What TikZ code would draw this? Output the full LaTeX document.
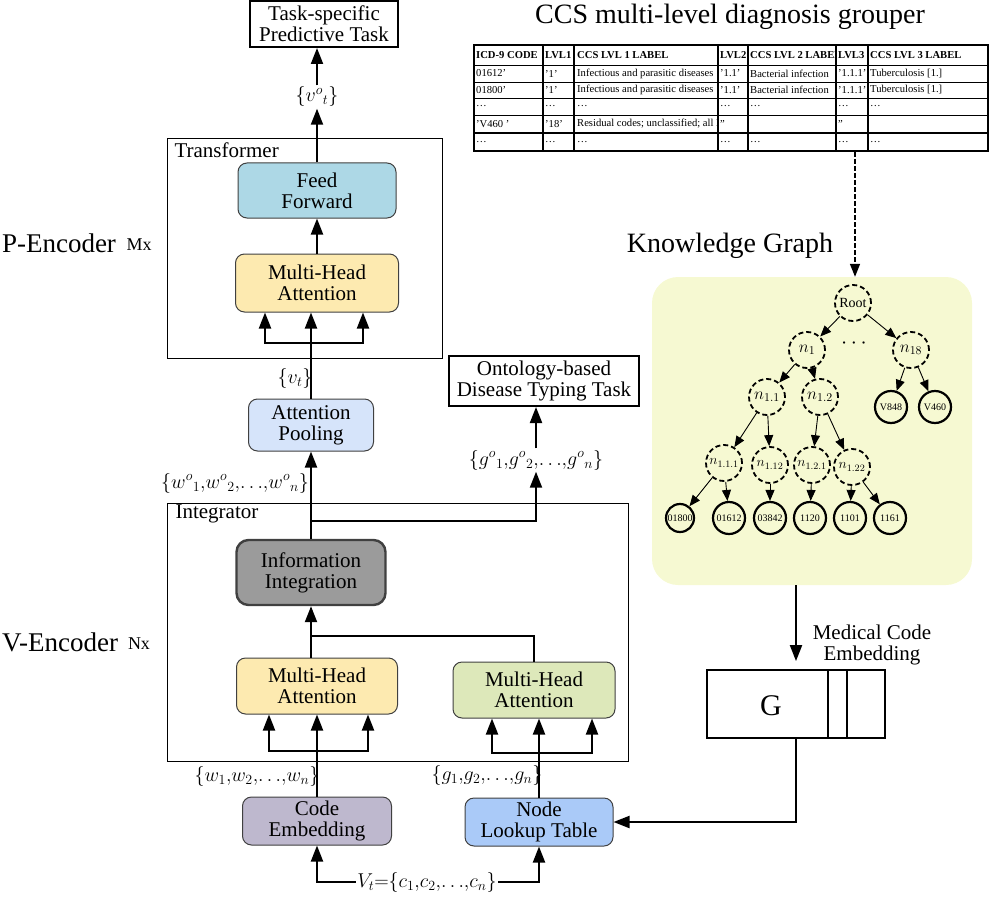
\RequirePackage{fix-cm}
\documentclass[tikz,border=0pt]{standalone}
\usepackage{fontspec}
\setmainfont{Liberation Serif}
\usepackage{tikz}
\usetikzlibrary{arrows.meta, positioning, calc}
\definecolor{ffblue}{RGB}{173, 216, 230}
\definecolor{mhayellow}{RGB}{253, 234, 176}
\definecolor{mhagreen}{RGB}{221, 232, 186}
\definecolor{poolblue}{RGB}{214, 228, 250}
\definecolor{infogray}{RGB}{155, 155, 155}
\definecolor{embpurple}{RGB}{190, 184, 206}
\definecolor{lookupblue}{RGB}{170, 202, 248}
\definecolor{kgfill}{RGB}{246, 249, 210}
\newcommand{\fsz}[1]{\fontsize{#1}{#1}\selectfont}
\tikzstyle{block} = [rectangle, rounded corners=9pt, draw=black!75, line width=1pt, align=center, inner sep=0pt, font=\fsz{21}]
\tikzstyle{taskbox} = [rectangle, draw, line width=2pt, align=center, inner sep=0pt, font=\fsz{21}]
\tikzstyle{panel} = [draw, line width=0.8pt]
\tikzstyle{vec} = [inner sep=1.5pt, font=\fsz{20}]
\tikzstyle{arrow} = [line width=2pt, -{Triangle[length=16pt,width=12pt]}]
\tikzstyle{wire} = [line width=2pt]
\tikzstyle{conceptnode} = [circle, draw, dash pattern=on 5pt off 3pt, line width=1.8pt, minimum size=36pt, inner sep=0pt, font=\fsz{17}]
\tikzstyle{leafnode} = [circle, draw, line width=2.2pt, minimum size=32pt, inner sep=0pt, font=\fsz{10}]
\tikzstyle{treeedge} = [line width=0.9pt, -{Triangle[length=11pt,width=9pt]}]
\tikzstyle{tabcell} = [anchor=west, inner sep=0pt, font=\fsz{10.6}]

\begin{document}
\begin{tikzpicture}[x=1pt, y=-1pt]
    \useasboundingbox (0,0) rectangle (992,896);

    % P-Encoder
    \draw[panel] (167,138) rectangle (442,358);
    \node[anchor=west, font=\fsz{21}] (trlabel) at (171,150) {Transformer};
    \node[font=\fsz{27}] (penc) at (59,243) {P-Encoder};
    \node[font=\fsz{18}] (pmx) at (139,245) {Mx};
    \node[taskbox, minimum width=148pt, minimum height=46pt] (task) at (324,24) {Task-specific\\Predictive Task};
    \node[vec] (vot) at (317,97) {$\{v^{o}{}_{t}\}$};
    \node[block, fill=ffblue, minimum width=158pt, minimum height=55pt] (ff) at (317,190.5) {Feed\\Forward};
    \node[block, fill=mhayellow, minimum width=163pt, minimum height=58pt] (mhaP) at (317,283) {Multi-Head\\Attention};
    \node[vec] (vt) at (295,378) {$\{v_t\}$};
    \node[block, fill=poolblue, minimum width=125pt, minimum height=52pt] (pool) at (311,425) {Attention\\Pooling};

    \draw[arrow] (vot.north) -- (vot.north |- task.south);
    \draw[arrow] (ff.north) -- (vot.south);
    \draw[arrow] (mhaP.north) -- (ff.south);
    \draw[arrow] (pool.north) -- (pool.north |- mhaP.south);
    \coordinate (pbr) at (311,343);
    \draw[arrow] (pbr) -| ($(pbr |- mhaP.south)+(-46,0)$);
    \draw[arrow] (pbr) -| ($(pbr |- mhaP.south)+(52,0)$);

    % Ontology task
    \node[taskbox, minimum width=190pt, minimum height=50pt] (onto) at (544,381) {Ontology-based\\Disease Typing Task};
    \node[vec] (go) at (536,460) {$\{g^{o}{}_{1}{,}g^{o}{}_{2}{,}{\ldots}{,}g^{o}{}_{n}\}$};
    \node[vec] (wo) at (235,483) {$\{w^{o}{}_{1}{,}w^{o}{}_{2}{,}{\ldots}{,}w^{o}{}_{n}\}$};

    % V-Encoder
    \draw[panel] (167,503) rectangle (628,761);
    \node[anchor=west, font=\fsz{21}] (intlabel) at (172,514) {Integrator};
    \node[font=\fsz{27}] (venc) at (60,642) {V-Encoder};
    \node[font=\fsz{18}] (vnx) at (139,644) {Nx};
    \node[block, fill=infogray, line width=2.4pt, rounded corners=12pt, minimum width=149pt, minimum height=65pt] (info) at (311,572.5) {Information\\Integration};
    \node[block, fill=mhayellow, minimum width=161pt, minimum height=56pt] (mhaV) at (317,686) {Multi-Head\\Attention};
    \node[block, fill=mhagreen, minimum width=162pt, minimum height=56pt] (mhaG) at (534,690) {Multi-Head\\Attention};
    \node[vec] (w) at (257,776) {$\{w_1{,}w_2{,}{\ldots}{,}w_n\}$};
    \node[vec] (g) at (487,775) {$\{g_1{,}g_2{,}{\ldots}{,}g_n\}$};
    \node[block, fill=embpurple, minimum width=149pt, minimum height=48pt] (code) at (317,821) {Code\\Embedding};
    \node[block, fill=lookupblue, minimum width=148pt, minimum height=48pt] (lookup) at (539,822) {Node\\Lookup Table};
    \node[vec] (vtc) at (427,882) {$V_t{=}\{c_1{,}c_2{,}{\ldots}{,}c_n\}$};

    \draw[arrow] (info.north) -- (pool.south);
    \coordinate (split) at (311,521);
    \draw[arrow] (split) -| (go.south);
    \draw[arrow] (go.north) -- (go.north |- onto.south);
    \coordinate (join) at (311,636);
    \draw[arrow] (join) -- (info.south);
    \draw[wire] (join |- mhaV.north) -- (join) -| (mhaG.north);
    \draw[arrow] (code.north) -- (mhaV.south);
    \coordinate (vbr) at (317,751);
    \draw[arrow] (vbr) -| ($(vbr |- mhaV.south)+(-48,0)$);
    \draw[arrow] (vbr) -| ($(vbr |- mhaV.south)+(51,0)$);
    \draw[arrow] (lookup.north) -- (lookup.north |- mhaG.south);
    \coordinate (gbr) at (539,753);
    \draw[arrow] (gbr) -| ($(gbr |- mhaG.south)+(-47,0)$);
    \draw[arrow] (gbr) -| ($(gbr |- mhaG.south)+(53,0)$);
    \draw[arrow] (vtc.west) -| (code.south);
    \draw[arrow] (vtc.east) -| (lookup.south);

    % CCS grouper table
    \node[font=\fsz{28}] (title) at (730,17) {CCS multi-level diagnosis grouper};
    \draw[line width=2pt] (474,45) rectangle (988,151);
    \foreach \x in {543,574,718,748,836,868} \draw[line width=1.5pt] (\x,45) -- (\x,151);
    \foreach \y in {65,82,98,115} \draw[line width=0.9pt] (474,\y) -- (988,\y);
    \draw[line width=2.4pt] (474,133) -- (988,133);
    \node[tabcell, font=\fsz{10.6}\bfseries] (h-a) at (476,55) {ICD-9 CODE};
    \node[tabcell, font=\fsz{10.6}\bfseries] (h-b) at (545,55) {LVL1};
    \node[tabcell, font=\fsz{10.6}\bfseries] (h-c) at (577,55) {CCS LVL 1 LABEL};
    \node[tabcell, font=\fsz{10.6}\bfseries] (h-d) at (720,55) {LVL2};
    \begin{scope}
        \clip (748,45) rectangle (836,65);
        \node[tabcell, font=\fsz{10.6}\bfseries] (h-e) at (750,55) {CCS LVL 2 LABEL};
    \end{scope}
    \node[tabcell, font=\fsz{10.6}\bfseries] (h-f) at (838,55) {LVL3};
    \node[tabcell, font=\fsz{10.6}\bfseries] (h-g) at (870,55) {CCS LVL 3 LABEL};
    \foreach \r/\y/\a/\b/\c/\d/\e/\f/\g in {
        1/73.5/01612'/'1'/Infectious and parasitic diseases/'1.1'/Bacterial infection/'1.1.1'/Tuberculosis [1.],
        2/90/01800'/'1'/Infectious and parasitic diseases/'1.1'/Bacterial infection/'1.1.1'/Tuberculosis [1.],
        3/106.5/\dots/\dots/\dots/\dots/\dots/\dots/\dots,
        5/142/\dots/\dots/\dots/\dots/\dots/\dots/\dots}
    {
        \node[tabcell] (t\r-a) at (476,\y) {\a};
        \node[tabcell] (t\r-b) at (545,\y) {\b};
        \node[tabcell] (t\r-c) at (577,\y) {\c};
        \node[tabcell] (t\r-d) at (720,\y) {\d};
        \node[tabcell] (t\r-e) at (750,\y) {\e};
        \node[tabcell] (t\r-f) at (838,\y) {\f};
        \node[tabcell] (t\r-g) at (870,\y) {\g};
    }
    \node[tabcell] (t4-a) at (476,124) {'V460 '};
    \node[tabcell] (t4-b) at (545,124) {'18'};
    \begin{scope}
        \clip (574,115) rectangle (718,133);
        \node[tabcell] (t4-c) at (577,124) {Residual codes; unclassified; all E};
    \end{scope}
    \node[tabcell] (t4-d) at (720,124) {''};
    \node[tabcell] (t4-f) at (838,124) {''};
    \coordinate (tabbot) at (855,152);

    % Knowledge graph
    \node[font=\fsz{28}] (kglabel) at (730,246) {Knowledge Graph};
    \node[fill=kgfill, rounded corners=26pt, minimum width=320pt, minimum height=308pt, inner sep=0pt] (kg) at (812,431) {};
    \draw[line width=1.5pt, dash pattern=on 5pt off 2pt, -{Triangle[length=13pt,width=10pt]}] (tabbot) -- (tabbot |- kg.north);

    \node[conceptnode, font=\fsz{14}] (root) at (853,303) {Root};
    \node[conceptnode] (n1) at (807,350) {$n_{1}$};
    \node[font=\fsz{22}] (dots) at (854,344) {$\cdots$};
    \node[conceptnode] (n18) at (911,350) {$n_{18}$};
    \node[conceptnode] (n11) at (767,397) {$n_{1.1}$};
    \node[conceptnode] (n12) at (820,397) {$n_{1.2}$};
    \node[leafnode] (v848) at (891,407) {V848};
    \node[leafnode] (v460) at (935,407) {V460};
    \node[conceptnode, font=\fsz{14}] (n111) at (724,463) {$n_{1.1.1}$};
    \node[conceptnode, font=\fsz{14}] (n112) at (770,465) {$n_{1.12}$};
    \node[conceptnode, font=\fsz{14}] (n121) at (812,465) {$n_{1.2.1}$};
    \node[conceptnode, font=\fsz{14}] (n122) at (852,467) {$n_{1.22}$};
    \node[leafnode, minimum size=28pt] (l01800) at (680,518) {01800};
    \node[leafnode] (l01612) at (729,518) {01612};
    \node[leafnode] (l03842) at (770,518) {03842};
    \node[leafnode] (l1120) at (810,518) {1120};
    \node[leafnode] (l1101) at (850,518) {1101};
    \node[leafnode] (l1161) at (890,518) {1161};
    \foreach \a/\b in {root/n1, root/n18, n1/n11, n1/n12, n18/v848, n18/v460, n11/n111, n11/n112, n12/n121, n12/n122, n111/l01800, n111/l01612, n112/l03842, n121/l1120, n122/l1101, n122/l1161}
        \draw[treeedge] (\a) -- (\b);

    % Medical code embedding
    \node[draw, line width=1.8pt, minimum width=178pt, minimum height=68pt, inner sep=0pt] (gbox) at (796,704) {};
    \node[font=\fsz{30}] (glabel) at (771,706) {G};
    \draw[line width=1.8pt] (gbox.north -| 828,0) -- (gbox.south -| 828,0);
    \draw[line width=1.8pt] (gbox.north -| 847,0) -- (gbox.south -| 847,0);
    \node[align=center, font=\fsz{21}] (mcelabel) at (872,645) {Medical Code\\Embedding};
    \draw[arrow, shorten >=8pt] (gbox.north |- kg.south) -- (gbox.north);
    \draw[arrow] (gbox.south) |- (lookup.east);
\end{tikzpicture}
\end{document}
